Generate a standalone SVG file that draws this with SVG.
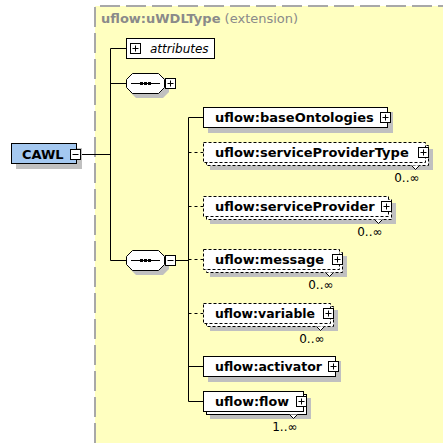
<svg xmlns="http://www.w3.org/2000/svg" width="443" height="443" viewBox="0 0 443 443">
<style>
.bg{fill:#ffffc0}
.frame{fill:none;stroke:#a8a8a8;stroke-width:2;stroke-dasharray:20 6}
.sh{fill:#c0c0c0}
.box{fill:#fff;stroke:#000;stroke-width:1}
.opt{fill:#fff;stroke:#000;stroke-width:1;stroke-dasharray:3 2}
.ln{fill:none;stroke:#000;stroke-width:1}
.dl{fill:none;stroke:#000;stroke-width:1;stroke-dasharray:3 3}
.t{font-family:"DejaVu Sans",sans-serif;font-weight:bold;font-size:13px;fill:#000}
.occ{font-family:"DejaVu Sans",sans-serif;font-size:12px;fill:#000}
.title{font-family:"DejaVu Sans",sans-serif;font-size:13px;fill:#8a8a8a}
.btn{fill:#fff;stroke:#000;stroke-width:1}
.v{fill:#fff;stroke:#000;stroke-width:1}
</style>
<defs>
<g id="plus"><rect class="btn" x="0.5" y="0.5" width="10" height="10"/><path d="M2.5 5.5h6M5.5 2.5v6" stroke="#000"/></g>
<g id="minus"><rect class="btn" x="0.5" y="0.5" width="10" height="10"/><path d="M2.5 5.5h6" stroke="#000"/></g>
<g id="seq">
<polygon class="sh" points="10,4 37,4 43,10 43,19 37,25 10,25 4,19 4,10"/>
<polygon class="box" points="6.5,0.5 32.5,0.5 38.5,6.5 38.5,14.5 32.5,20.5 6.5,20.5 0.5,14.5 0.5,6.5"/>
<path d="M5 10.5h29" stroke="#000"/>
<rect x="14" y="9" width="3" height="3" fill="#000"/>
<rect x="18" y="9" width="3" height="3" fill="#000"/>
<rect x="22" y="9" width="3" height="3" fill="#000"/>
</g>
</defs>

<rect class="bg" x="95" y="6" width="348" height="437"/>
<path class="frame" d="M95 443V6H443"/>
<text class="title" x="101" y="23"><tspan font-weight="bold">uflow:uWDLType</tspan> (extension)</text>

<g id="connectors">
<path class="ln" d="M81 154.5H110.5M110.5 48.5V260.5M110.5 48.5H126M110.5 83.5H126M110.5 260.5H126"/>
<path class="ln" d="M176 260.5H188.5M188.5 117.5V401.5"/>
<path class="ln" d="M188.5 117.5H203.5M188.5 366.5H203.5M188.5 401.5H203.5"/>
<path class="dl" d="M188.5 152.5H203.5M188.5 206.5H203.5M188.5 259.5H203.5M188.5 313.5H203.5"/>
</g>

<g id="CAWL">
<rect class="sh" x="16" y="148" width="66" height="21"/>
<rect x="11.5" y="143.5" width="65" height="20" fill="#a4c8f0" stroke="#000"/>
<text class="t" x="22" y="159">CAWL</text>
<use href="#minus" x="70" y="149"/>
</g>

<g id="attributes">
<rect class="box" x="126.5" y="38.5" width="88" height="20"/>
<use href="#plus" x="130" y="43"/>
<text x="150" y="53" font-family="DejaVu Sans, sans-serif" font-style="italic" font-size="12" fill="#000">attributes</text>
</g>

<g id="seq1">
<use href="#seq" x="126" y="73"/>
<use href="#plus" x="165" y="78"/>
</g>

<g id="seq2">
<use href="#seq" x="126" y="250"/>
<use href="#minus" x="165" y="255"/>
</g>

<g id="baseOntologies">
<rect class="sh" x="208" y="112" width="185" height="21"/>
<rect class="box" x="203.5" y="107.5" width="184" height="20"/>
<text class="t" x="215" y="122">uflow:baseOntologies</text>
<use href="#plus" x="380" y="112"/>
</g>

<g id="serviceProviderType">
<rect class="sh" x="210" y="149" width="223" height="21"/>
<rect class="opt" x="206.5" y="145.5" width="222" height="20"/>
<rect class="opt" x="203.5" y="142.5" width="222" height="20"/>
<text class="t" x="215" y="157">uflow:serviceProviderType</text>
<use href="#plus" x="418" y="147"/>
<path class="v" d="M411.5 165.5L415.5 169.5L419.5 165.5"/>
<text class="occ" x="419.5" y="182" text-anchor="end">0..∞</text>
</g>

<g id="serviceProvider">
<rect class="sh" x="210" y="203" width="186" height="21"/>
<rect class="opt" x="206.5" y="199.5" width="185" height="20"/>
<rect class="opt" x="203.5" y="196.5" width="185" height="20"/>
<text class="t" x="215" y="211">uflow:serviceProvider</text>
<use href="#plus" x="381" y="201"/>
<path class="v" d="M374.5 219.5L378.5 223.5L382.5 219.5"/>
<text class="occ" x="382.5" y="236" text-anchor="end">0..∞</text>
</g>

<g id="message">
<rect class="sh" x="210" y="256" width="137" height="21"/>
<rect class="opt" x="206.5" y="252.5" width="136" height="20"/>
<rect class="opt" x="203.5" y="249.5" width="136" height="20"/>
<text class="t" x="215" y="264" textLength="109" lengthAdjust="spacingAndGlyphs">uflow:message</text>
<use href="#plus" x="332" y="254"/>
<path class="v" d="M325.5 272.5L329.5 276.5L333.5 272.5"/>
<text class="occ" x="333.5" y="289" text-anchor="end">0..∞</text>
</g>

<g id="variable">
<rect class="sh" x="210" y="310" width="128" height="21"/>
<rect class="opt" x="206.5" y="306.5" width="127" height="20"/>
<rect class="opt" x="203.5" y="303.5" width="127" height="20"/>
<text class="t" x="215" y="318" textLength="100" lengthAdjust="spacingAndGlyphs">uflow:variable</text>
<use href="#plus" x="323" y="308"/>
<path class="v" d="M316.5 326.5L320.5 330.5L324.5 326.5"/>
<text class="occ" x="324.5" y="343" text-anchor="end">0..∞</text>
</g>

<g id="activator">
<rect class="sh" x="208" y="361" width="133" height="21"/>
<rect class="box" x="203.5" y="356.5" width="132" height="20"/>
<text class="t" x="215" y="371" textLength="107" lengthAdjust="spacingAndGlyphs">uflow:activator</text>
<use href="#plus" x="328" y="361"/>
</g>

<g id="flow">
<rect class="sh" x="210" y="398" width="101" height="21"/>
<rect class="box" x="206.5" y="394.5" width="100" height="20"/>
<rect class="box" x="203.5" y="391.5" width="100" height="20"/>
<text class="t" x="215" y="406" textLength="74" lengthAdjust="spacingAndGlyphs">uflow:flow</text>
<use href="#plus" x="296" y="396"/>
<path class="v" d="M289.5 414.5L293.5 418.5L297.5 414.5"/>
<text class="occ" x="297.5" y="431" text-anchor="end">1..∞</text>
</g>
</svg>
